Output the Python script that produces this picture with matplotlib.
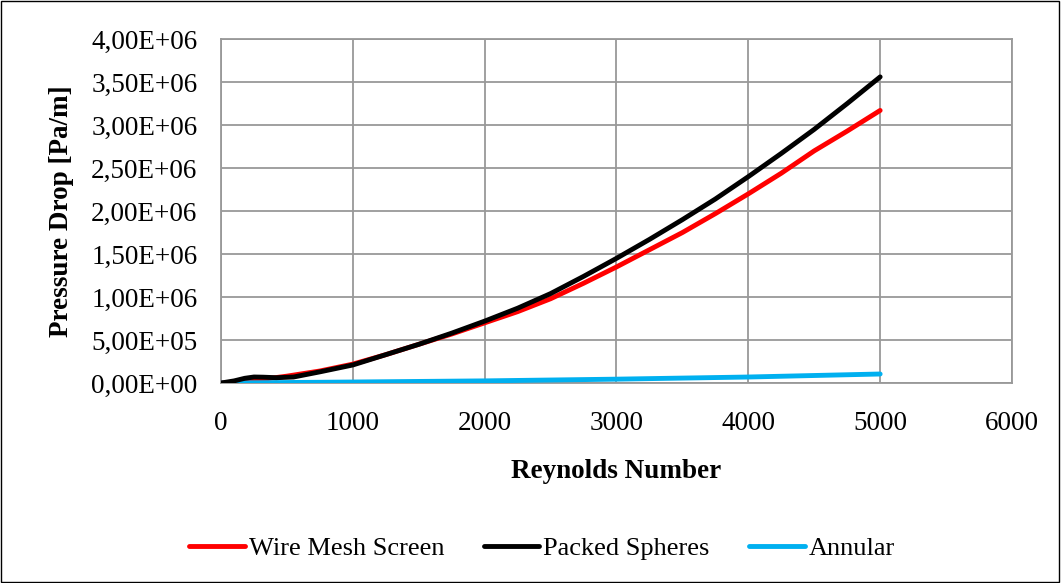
import matplotlib.pyplot as plt
from matplotlib.ticker import FuncFormatter
from matplotlib.patches import Rectangle

plt.rcParams['font.family'] = ['Liberation Serif', 'DejaVu Serif']

# data
re_black = [0, 100, 180, 250, 320, 420, 550, 750, 1000, 1250, 1500, 1750, 2000, 2250,
            2500, 2750, 3000, 3250, 3500, 3750, 4000, 4250, 4500, 4750, 5000]
packed = [0, 2.5e4, 5.5e4, 7.0e4, 6.8e4, 6.2e4, 7.0e4, 1.3e5, 2.1e5, 3.3e5, 4.5e5,
          5.8e5, 7.2e5, 8.7e5, 1.04e6, 1.24e6, 1.45e6, 1.67e6, 1.90e6, 2.14e6,
          2.40e6, 2.67e6, 2.95e6, 3.25e6, 3.56e6]

re_red = [0, 250, 500, 750, 1000, 1250, 1500, 1750, 2000, 2250, 2500, 2750, 3000,
          3250, 3500, 3750, 4000, 4250, 4500, 4750, 5000]
wire = [0, 3.0e4, 8.0e4, 1.4e5, 2.2e5, 3.3e5, 4.5e5, 5.7e5, 7.0e5, 8.3e5, 9.8e5,
        1.16e6, 1.35e6, 1.55e6, 1.75e6, 1.97e6, 2.20e6, 2.44e6, 2.70e6, 2.93e6, 3.17e6]

re_ann = [0, 1000, 2000, 3000, 4000, 5000]
annular = [0, 1.2e4, 2.5e4, 4.5e4, 7.0e4, 1.05e5]

fig = plt.figure(figsize=(10.61, 5.83), dpi=100)
ax = fig.add_axes([0.2083, 0.343, 0.7455, 0.590])

ax.plot(re_red, wire, color='#ff0000', lw=3.5, label='Wire Mesh Screen', zorder=3,
        solid_capstyle='round', solid_joinstyle='round')
ax.plot(re_black, packed, color='black', lw=3.5, label='Packed Spheres', zorder=4,
        solid_capstyle='round', solid_joinstyle='round')
ax.plot(re_ann, annular, color='#00b0f0', lw=3.5, label='Annular', zorder=3,
        solid_capstyle='round', solid_joinstyle='round')

ax.set_xlim(0, 6000)
ax.set_ylim(0, 4.0e6)
ax.set_xticks(range(0, 6001, 1000))
ax.set_yticks([i * 5e5 for i in range(9)])
ax.yaxis.set_major_formatter(FuncFormatter(lambda v, p: '{:.2E}'.format(v).replace('.', ',')))
ax.grid(True, color='#999999', lw=1.3)
ax.set_axisbelow(True)
for s in ax.spines.values():
    s.set_color('#999999')
    s.set_linewidth(1.3)
ax.tick_params(length=0, labelsize=19.5)
ax.tick_params(axis='x', pad=20)
ax.tick_params(axis='y', pad=17)

ax.set_xlabel('Reynolds Number', fontsize=19.5, fontweight='bold', labelpad=17)
ax.set_ylabel('Pressure Drop [Pa/m]', fontsize=19.5, fontweight='bold', labelpad=12)

ax.legend(loc='center', bbox_to_anchor=(0.511, 0.06), bbox_transform=fig.transFigure,
          ncol=3, frameon=False, fontsize=19, handlelength=2.1, handletextpad=0.15,
          columnspacing=1.5)

fig.patches.append(Rectangle((0.001, 0.002), 0.997, 0.996, transform=fig.transFigure,
                             fill=False, edgecolor='black', lw=1))

fig.savefig('out.png', dpi=100)
